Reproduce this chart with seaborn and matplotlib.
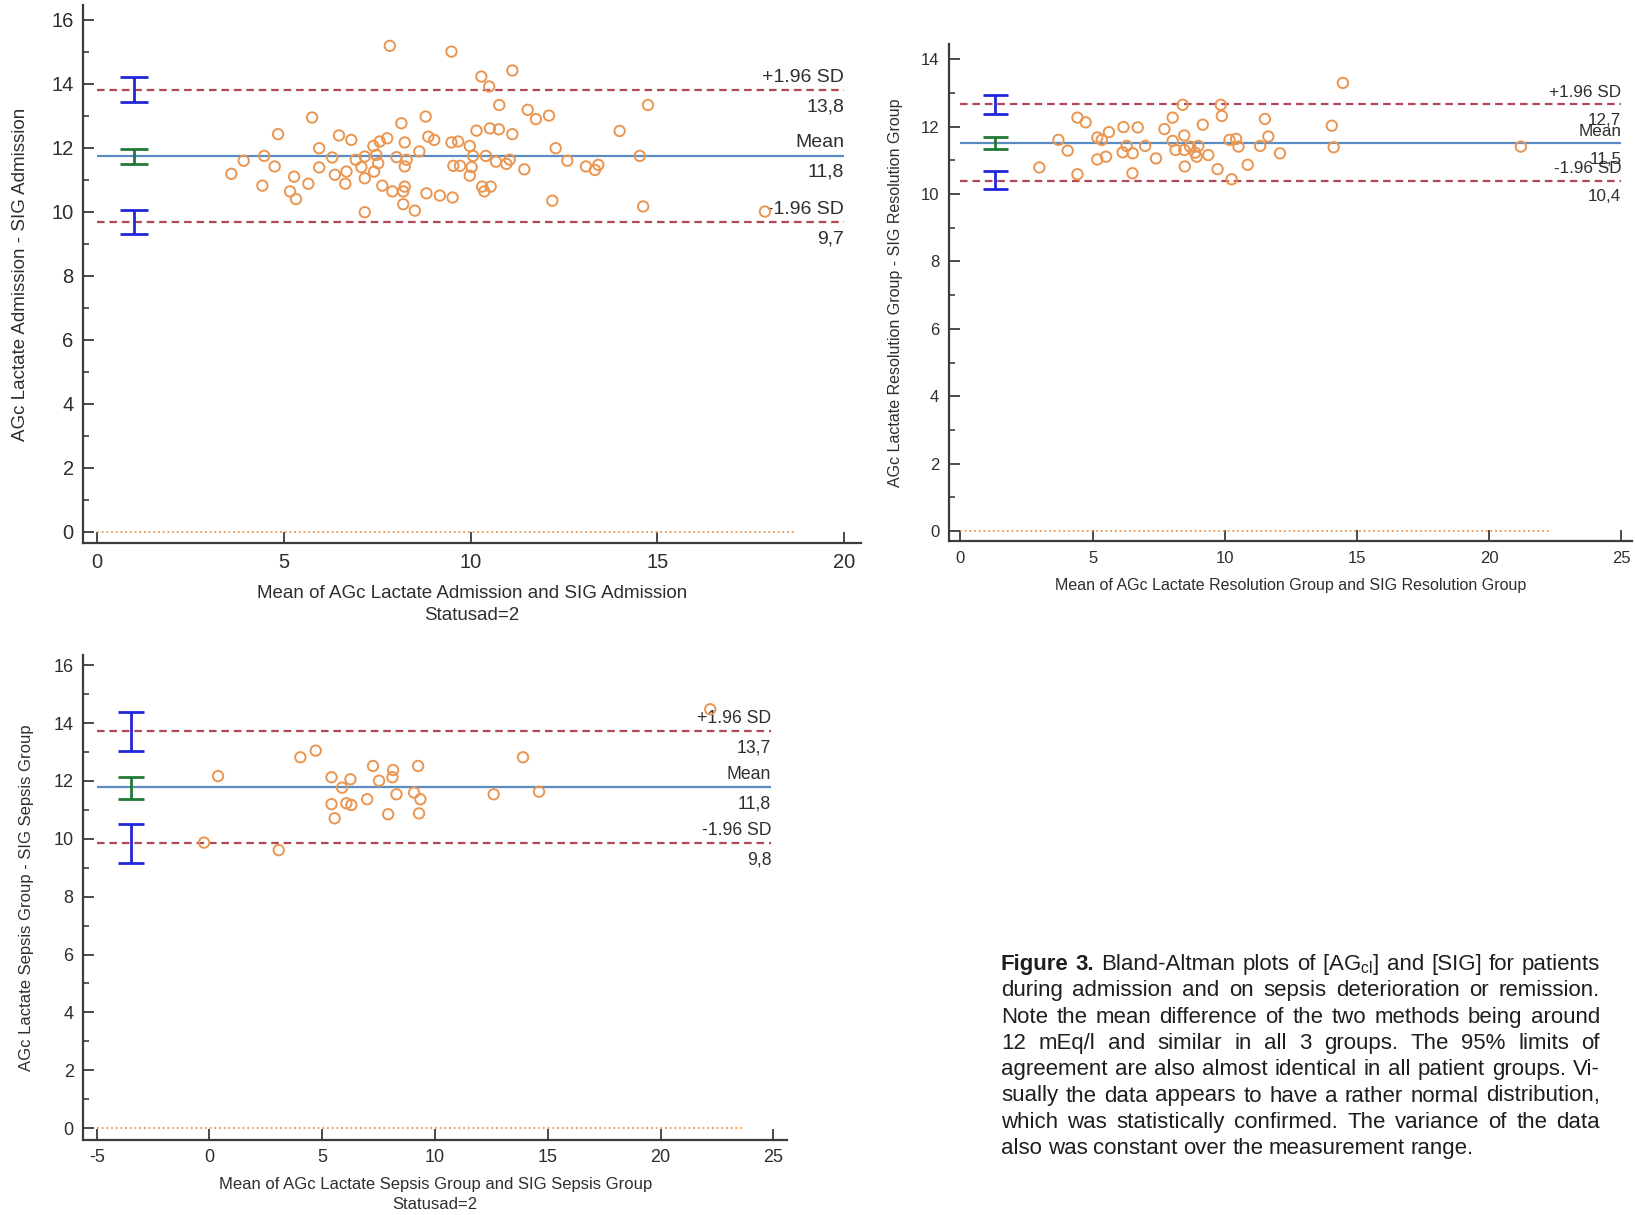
import seaborn as sns
import matplotlib.pyplot as plt
import matplotlib.ticker as mticker
from matplotlib import font_manager

# ---- admission group (top left)
adm_x = [7.84, 9.49, 10.29, 10.50, 10.77, 5.76, 4.85, 8.15, 8.80, 6.48,
         6.81, 10.16, 10.52, 10.76, 7.40, 7.57, 7.77, 5.95, 8.24, 8.87,
         9.03, 9.49, 9.67, 9.98, 8.63, 3.93, 4.48, 4.76, 6.30, 6.93,
         7.17, 7.48, 8.02, 8.29, 8.24, 7.53, 7.08, 10.07, 10.41, 10.68,
         9.54, 9.72, 10.03, 3.60, 5.95, 6.68, 7.42, 5.28, 6.37, 7.17,
         9.98, 4.43, 5.66, 6.65, 7.64, 8.24, 5.17, 5.33, 7.91, 8.20,
         8.82, 9.18, 9.52, 10.31, 10.54, 10.37, 8.20, 8.51, 7.17, 11.12,
         11.53, 11.75, 12.10, 14.75, 11.12, 13.99, 12.28, 10.96, 11.05, 11.44,
         12.59, 13.09, 13.33, 13.42, 14.53, 12.19, 14.62, 17.88]
adm_y = [15.19, 15.01, 14.23, 13.92, 13.34, 12.95, 12.43, 12.77, 12.98, 12.39,
         12.25, 12.54, 12.61, 12.58, 12.06, 12.20, 12.30, 11.99, 12.17, 12.35,
         12.25, 12.17, 12.20, 12.06, 11.89, 11.60, 11.75, 11.42, 11.70, 11.63,
         11.73, 11.78, 11.71, 11.63, 11.42, 11.52, 11.40, 11.75, 11.75, 11.57,
         11.44, 11.44, 11.40, 11.19, 11.39, 11.26, 11.26, 11.10, 11.16, 11.05,
         11.13, 10.82, 10.88, 10.88, 10.82, 10.79, 10.64, 10.40, 10.64, 10.64,
         10.58, 10.51, 10.45, 10.79, 10.79, 10.64, 10.24, 10.04, 9.99, 14.42,
         13.19, 12.90, 13.01, 13.34, 12.43, 12.53, 11.99, 11.50, 11.63, 11.33,
         11.60, 11.42, 11.31, 11.47, 11.75, 10.35, 10.17, 10.01]
adm_limits = [13.81, 11.76, 9.69]            # +1.96 SD, mean, -1.96 SD
adm_ci = [(13.43, 14.21), (11.50, 11.98), (9.30, 10.06)]

# ---- resolution group (top right)
res_x = [2.99, 3.71, 4.06, 4.43, 4.74, 4.43, 5.18, 5.35, 5.62, 5.18,
         5.51, 6.17, 6.14, 6.29, 6.52, 6.51, 6.71, 6.99, 7.40, 7.72,
         8.03, 8.41, 8.03, 8.14, 8.47, 8.47, 8.69, 8.49, 8.88, 9.00,
         8.94, 9.17, 9.38, 9.73, 9.85, 9.89, 10.18, 10.43, 10.52, 10.26,
         10.87, 11.34, 11.52, 11.65, 12.09, 14.47, 14.05, 14.12, 21.20]
res_y = [10.79, 11.61, 11.29, 12.27, 12.13, 10.59, 11.68, 11.61, 11.84, 11.03,
         11.11, 11.99, 11.24, 11.43, 11.21, 10.62, 11.98, 11.43, 11.06, 11.93,
         12.27, 12.65, 11.58, 11.31, 11.74, 11.31, 11.41, 10.82, 11.23, 11.43,
         11.11, 12.06, 11.16, 10.74, 12.65, 12.32, 11.61, 11.64, 11.41, 10.44,
         10.87, 11.43, 12.23, 11.71, 11.21, 13.30, 12.03, 11.39, 11.41]
res_limits = [12.66, 11.51, 10.40]
res_ci = [(12.38, 12.95), (11.34, 11.69), (10.14, 10.70)]

# ---- sepsis group (bottom left)
sep_x = [0.38, -0.24, 3.07, 4.03, 4.71, 5.41, 5.88, 6.25, 5.41, 5.55,
         6.07, 6.29, 6.99, 7.25, 7.52, 8.11, 8.14, 8.29, 7.92, 9.25,
         9.07, 9.35, 9.29, 12.60, 13.90, 14.61, 22.20]
sep_y = [12.17, 9.87, 9.61, 12.82, 13.05, 12.13, 11.77, 12.06, 11.20, 10.71,
         11.23, 11.17, 11.37, 12.52, 12.01, 12.13, 12.38, 11.54, 10.85, 12.52,
         11.60, 11.37, 10.88, 11.54, 12.82, 11.63, 14.48]
sep_limits = [13.72, 11.78, 9.84]
sep_ci = [(13.04, 14.37), (11.37, 12.15), (9.15, 10.50)]

limit_names = ["+1.96 SD", "Mean", "-1.96 SD"]

caption_lines = [
    "Figure 3. Bland-Altman plots of [AG$_{cl}$] and [SIG] for patients",
    "during admission and on sepsis deterioration or remission.",
    "Note the mean difference of the two methods being around",
    "12 mEq/l and similar in all 3 groups. The 95% limits of",
    "agreement are also almost identical in all patient groups. Vi-",
    "sually the data appears to have a rather normal distribution,",
    "which was statistically confirmed. The variance of the data",
    "also was constant over the measurement range.",
]

ORANGE = "#eb9650"
DASH = "#b04856"
MEANC = "#5b8cc2"
BLUE = "#2226d8"
GREEN = "#217a33"
TXT = "#2e2e2e"
AXC = "#3c3c3c"

sns.set_style("ticks")
plt.rcParams["font.family"] = ["Liberation Sans", "DejaVu Sans"]
plt.rcParams["mathtext.default"] = "regular"
plt.rcParams["axes.unicode_minus"] = False

installed = {f.name for f in font_manager.fontManager.ttflist}
if "Liberation Sans Narrow" in installed:
    CAP_FONT, CAP_SIZE = ["Liberation Sans Narrow", "DejaVu Sans"], 18
else:
    CAP_FONT, CAP_SIZE = ["Liberation Sans", "DejaVu Sans"], 16


def draw_panel(ax, x, y, limits, ci, ci_x, cap, span, zero_span, xlim, ylim,
               xstep, ymax, xlabel, ylabel, fs, lfs, afs, ylab_x, xlab_y):
    ax.set_xlim(*xlim)
    ax.set_ylim(*ylim)
    ax.hlines(0, *zero_span, colors=ORANGE, linestyles=(0, (1, 1.6)), linewidth=1.3)
    styles = [(0, (3.4, 2.2)), "-", (0, (3.4, 2.2))]
    for val, ls, c in zip(limits, styles, [DASH, MEANC, DASH]):
        ax.hlines(val, *span, colors=c, linestyles=ls, linewidth=1.6, zorder=2)
    for (lo, hi), c in zip(ci, [BLUE, GREEN, BLUE]):
        ax.errorbar([ci_x], [(lo + hi) / 2], yerr=[(hi - lo) / 2], fmt="none",
                    ecolor=c, elinewidth=2, capsize=cap, capthick=2, zorder=3)
    sns.scatterplot(x=x, y=y, ax=ax, marker="o", s=56, facecolor="none",
                    edgecolor=ORANGE, linewidth=1.4, zorder=4)
    for val, name in zip(limits, limit_names):
        ax.annotate(name, (span[1], val), xytext=(0, 3), textcoords="offset points",
                    ha="right", va="bottom", fontsize=afs, color=TXT)
        ax.annotate(f"{val:.1f}".replace(".", ","), (span[1], val), xytext=(0, -6),
                    textcoords="offset points", ha="right", va="top", fontsize=afs, color=TXT)

    ax.xaxis.set_major_locator(mticker.MultipleLocator(xstep))
    ax.set_yticks(range(0, ymax + 1, 2))
    ax.yaxis.set_minor_locator(mticker.MultipleLocator(1))
    ax.tick_params(which="major", direction="in", length=8, width=1.3, color=AXC,
                   labelsize=fs, labelcolor=TXT, pad=7)
    ax.tick_params(which="minor", axis="y", direction="in", length=4.5, width=1.2, color=AXC)
    for side in ["top", "right"]:
        ax.spines[side].set_visible(False)
    for side in ["left", "bottom"]:
        ax.spines[side].set_color(AXC)
        ax.spines[side].set_linewidth(1.6)
    ax.set_xlabel(xlabel, fontsize=lfs, color=TXT, linespacing=1.4)
    ax.set_ylabel(ylabel, fontsize=lfs, color=TXT)
    ax.xaxis.set_label_coords(0.5, xlab_y)
    ax.yaxis.set_label_coords(ylab_x, 0.5)


fig = plt.figure(figsize=(16.35, 12.15), dpi=100)

ax1 = fig.add_axes([0.051, 0.5531, 0.4756, 0.4426])
draw_panel(ax1, adm_x, adm_y, adm_limits, adm_ci, 1.0, 10, (0, 20), (0, 18.7),
           (-0.36, 20.45), (-0.35, 16.46), 5, 16,
           "Mean of AGc Lactate Admission and SIG Admission\nStatusad=2",
           "AGc Lactate Admission - SIG Admission", 14.5, 13.5, 14, -0.07, -0.078)

ax2 = fig.add_axes([0.5804, 0.5547, 0.4177, 0.4092])
draw_panel(ax2, res_x, res_y, res_limits, res_ci, 1.31, 9, (0, 25), (0, 22.3),
           (-0.43, 25.4), (-0.3, 14.46), 5, 14,
           "Mean of AGc Lactate Resolution Group and SIG Resolution Group",
           "AGc Lactate Resolution Group - SIG Resolution Group", 12, 11.5, 12.3, -0.068, -0.075)

ax3 = fig.add_axes([0.051, 0.062, 0.4303, 0.399])
draw_panel(ax3, sep_x, sep_y, sep_limits, sep_ci, -3.5, 9.3, (-5, 24.9), (-5, 23.6),
           (-5.59, 25.6), (-0.4, 16.36), 5, 16,
           "Mean of AGc Lactate Sepsis Group and SIG Sepsis Group\nStatusad=2",
           "AGc Lactate Sepsis Group - SIG Sepsis Group", 13, 12, 12.7, -0.07, -0.078)

# justified caption, word by word
fig.canvas.draw()
renderer = fig.canvas.get_renderer()
W, H = fig.bbox.width, fig.bbox.height
cap_left, cap_right, cap_top, cap_step = 1001, 1600, 970, 26.3
for i, line in enumerate(caption_lines):
    words = line.split(" ")
    ypos = 1 - (cap_top + i * cap_step) / H
    texts = []
    for j, w in enumerate(words):
        bold = i == 0 and j < 2
        texts.append(fig.text(0, ypos, w, fontsize=CAP_SIZE, color="#1e1e1e", family=CAP_FONT,
                              fontweight="bold" if bold else "normal", va="baseline"))
    widths = [t.get_window_extent(renderer).width for t in texts]
    if i == len(caption_lines) - 1:
        gap = CAP_SIZE * 100 / 72 * 0.26
    else:
        gap = (cap_right - cap_left - sum(widths)) / (len(words) - 1)
    pos = cap_left
    for t, w in zip(texts, widths):
        t.set_x(pos / W)
        pos += w + gap

fig.savefig("out.png", dpi=100, facecolor="white")
